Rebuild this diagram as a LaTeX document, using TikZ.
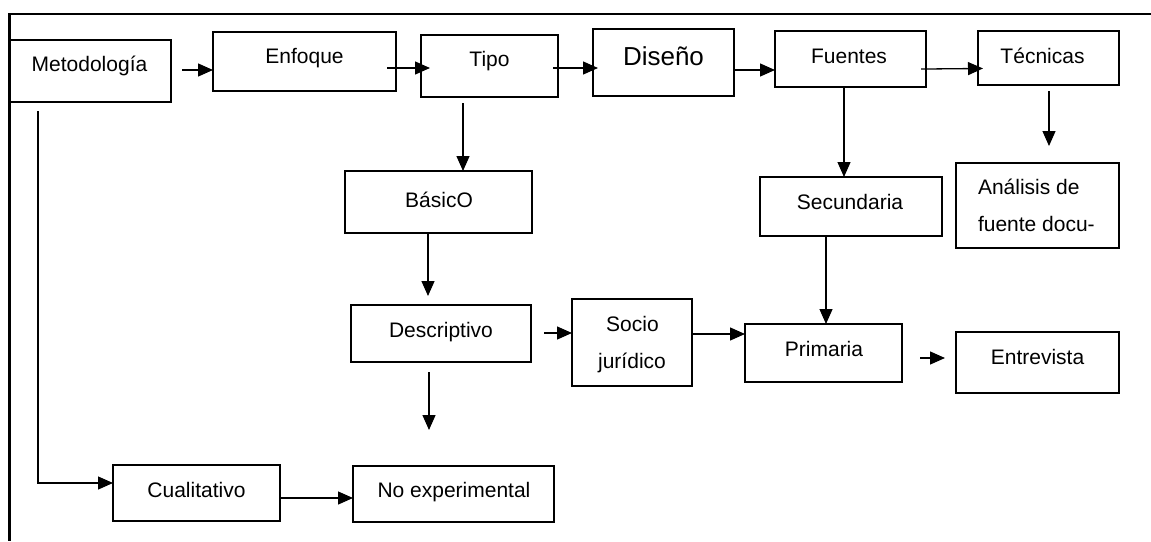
\documentclass[tikz,border=0pt]{standalone}
\usepackage{fontspec}
\setmainfont{Liberation Sans}
\usetikzlibrary{arrows.meta,fit}

\tikzset{
  box/.style={draw=black, line width=2.4pt, inner sep=0pt, outer sep=0pt},
  txt/.style={inner sep=0pt, outer sep=0pt, anchor=base, font=\fontsize{21}{25}\selectfont},
  bigtxt/.style={txt, font=\fontsize{26}{30}\selectfont},
  conn/.style={draw=black, line width=1.3pt, -{Triangle[length=15pt,width=13pt]}},
  plain/.style={draw=black, line width=1.3pt},
  frame/.style={draw=black, line width=2.6pt},
}

\begin{document}
\begin{tikzpicture}[x=1pt, y=-1pt]
\useasboundingbox (0,0) rectangle (1151,541);

% outer frame: top rule and left rule
\draw[frame] (1151,14) -- (9.5,14) -- (9.5,541);

% boxes
\node[box, fit={(10,40) (171,102)}]    (meto) {};
\node[box, fit={(213,32) (396,91)}]    (enfo) {};
\node[box, fit={(421,35) (558,97)}]    (tipo) {};
\node[box, fit={(593,29) (734,96)}]    (dise) {};
\node[box, fit={(775,31) (926,87)}]    (fuen) {};
\node[box, fit={(978,31) (1119,85)}]   (tecn) {};
\node[box, fit={(956,163) (1119,248)}] (anal) {};
\node[box, fit={(760,177) (942,236)}]  (secu) {};
\node[box, fit={(345,171) (532,233)}]  (basi) {};
\node[box, fit={(351,305) (531,362)}]  (desc) {};
\node[box, fit={(572,299) (692,386)}]  (soci) {};
\node[box, fit={(745,324) (902,382)}]  (prim) {};
\node[box, fit={(956,332) (1119,393)}] (entr) {};
\node[box, fit={(113,465) (280,521)}]  (cual) {};
\node[box, fit={(353,466) (554,522)}]  (noex) {};

% box texts
\node[txt] (meto-t) at (89.5,71) {Metodología};
\node[txt] (enfo-t) at (304.5,63) {Enfoque};
\node[txt] (tipo-t) at (489.5,66) {Tipo};
\node[bigtxt] (dise-t) at (663.5,65) {Diseño};
\node[txt] (fuen-t) at (849,63) {Fuentes};
\node[txt] (tecn-t) at (1042.5,63) {Técnicas};
\node[txt, anchor=base west] (anal-t1) at (978,194) {Análisis de};
\node[txt, anchor=base west] (anal-t2) at (978,231) {fuente docu-};
\node[txt] (secu-t) at (850,209) {Secundaria};
\node[txt] (basi-t) at (439,207) {BásicO};
\node[txt] (desc-t) at (441,337) {Descriptivo};
\node[txt] (soci-t1) at (632.5,331) {Socio};
\node[txt] (soci-t2) at (632,368) {jurídico};
\node[txt] (prim-t) at (824,356) {Primaria};
\node[txt] (entr-t) at (1037.5,364) {Entrevista};
\node[txt] (cual-t) at (196.5,497) {Cualitativo};
\node[txt] (noex-t) at (454,497) {No experimental};

% connectors along the top row
\draw[conn, shorten <=11pt] (meto.east |- 0,70) -- (enfo.west |- 0,70);
\draw[conn, shorten <=-9pt, shorten >=-9pt] (enfo.east |- 0,68) -- (tipo.west |- 0,68);
\draw[conn, shorten <=-5pt, shorten >=-5pt] (tipo.east |- 0,68) -- (dise.west |- 0,68);
\draw[conn] (dise.east |- 0,70) -- (fuen.west |- 0,70);
\draw[conn, shorten <=-5pt, shorten >=-5pt] (fuen.east |- 0,69) -- (tecn.west |- 0,68.5);

% downward connectors
\draw[conn, shorten <=6pt] (tipo.south -| 463,0) -- (basi.north -| 463,0);
\draw[conn, shorten >=9pt] (basi.south -| 428,0) -- (desc.north -| 428,0);
\draw[conn, shorten <=10pt, shorten >=36pt] (desc.south -| 429,0) -- (noex.north -| 429,0);
\draw[conn] (fuen.south -| 844,0) -- (secu.north -| 844,0);
\draw[conn] (secu.south -| 826,0) -- (prim.north -| 826,0);
\draw[conn, shorten <=6pt, shorten >=17pt] (tecn.south -| 1049,0) -- (anal.north -| 1049,0);

% middle row
\draw[conn, shorten <=13pt] (desc.east |- 0,333) -- (soci.west |- 0,333);
\draw[conn] (soci.east |- 0,334) -- (prim.west |- 0,334);
\draw[conn, shorten <=18pt, shorten >=11pt] (prim.east |- 0,358) -- (entr.west |- 0,358);

% bottom row
\draw[conn, shorten <=9pt] (meto.south -| 38,0) |- (cual.west |- 0,483);
\draw[conn] (cual.east |- 0,498) -- (noex.west |- 0,498);
\end{tikzpicture}
\end{document}
